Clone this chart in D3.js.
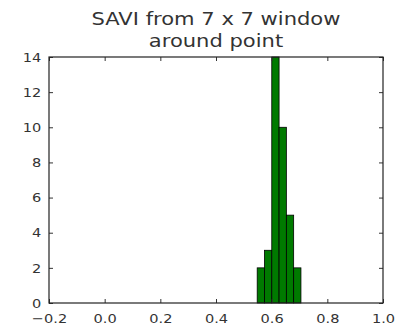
<!DOCTYPE html>
<html>
<head>
<meta charset="utf-8">
<script src="https://cdn.jsdelivr.net/npm/d3@7"></script>
<style>
  body { margin: 0; background: #fff; }
  text { font-family: "DejaVu Sans", sans-serif; fill: #333; }
</style>
</head>
<body>
<svg id="chart" width="399" height="328"></svg>
<script>
// histogram bins (left edges) and counts
var binStart = [0.548, 0.5742, 0.6004, 0.6266, 0.6528, 0.679];
var binWidth = 0.0262;
var counts = [2, 3, 14, 10, 5, 2];
var xTicks = [-0.2, 0.0, 0.2, 0.4, 0.6, 0.8, 1.0];
var yTicks = [0, 2, 4, 6, 8, 10, 12, 14];
var titleLines = ["SAVI from 7 x 7 window", "around point"];

var m = {top: 57, right: 16, bottom: 25, left: 49},
    W = 399, H = 328,
    w = W - m.left - m.right,
    h = H - m.top - m.bottom;

var svg = d3.select('#chart');
var g = svg.append('g').attr('transform', 'translate(' + m.left + ',' + m.top + ')');

var x = d3.scaleLinear().domain([-0.2, 1.0]).range([0, w]);
var y = d3.scaleLinear().domain([0, 14]).range([h, 0]);

// bars
g.selectAll('rect.bar').data(counts).enter().append('rect')
  .attr('class', 'bar')
  .attr('x', function(d, i){ return x(binStart[i]); })
  .attr('width', function(d, i){ return x(binStart[i] + binWidth) - x(binStart[i]); })
  .attr('y', function(d){ return y(d); })
  .attr('height', function(d){ return h - y(d); })
  .attr('fill', '#007a00')
  .attr('stroke', '#000')
  .attr('stroke-width', 0.8);

// ticks inside, all four sides
var fmt = function(d){ return d3.format('.1f')(d).replace('-', '\u2212'); };
var xb = g.append('g').attr('transform', 'translate(0,' + h + ')')
  .call(d3.axisBottom(x).tickValues(xTicks).tickSizeInner(-4).tickSizeOuter(0).tickPadding(11).tickFormat(fmt));
var xt = g.append('g')
  .call(d3.axisTop(x).tickValues(xTicks).tickSizeInner(-4).tickSizeOuter(0).tickFormat(''));
var yl = g.append('g')
  .call(d3.axisLeft(y).tickValues(yTicks).tickSizeInner(-4).tickSizeOuter(0).tickPadding(7));
var yr = g.append('g').attr('transform', 'translate(' + w + ',0)')
  .call(d3.axisRight(y).tickValues(yTicks).tickSizeInner(-4).tickSizeOuter(0).tickFormat(''));

[xb, xt, yl, yr].forEach(function(a){
  a.select('.domain').remove();
  a.selectAll('line').attr('stroke', '#333');
  a.selectAll('text').attr('font-size', 13).attr('font-family', '"DejaVu Sans", sans-serif')
    .attr('fill', '#333').attr('transform', 'scale(1.12,1)');
});

// frame
g.append('rect').attr('width', w).attr('height', h)
  .attr('fill', 'none').attr('stroke', '#222').attr('stroke-width', 1.2);

// title
svg.append('g').attr('transform', 'translate(' + (m.left + w / 2) + ',0) scale(1.17,1)')
  .append('text')
  .attr('text-anchor', 'middle')
  .attr('font-size', 18)
  .selectAll('tspan').data(titleLines).enter().append('tspan')
  .attr('x', 0)
  .attr('y', function(d, i){ return 25 + i * 22; })
  .text(function(d){ return d; });
</script>
</body>
</html>
